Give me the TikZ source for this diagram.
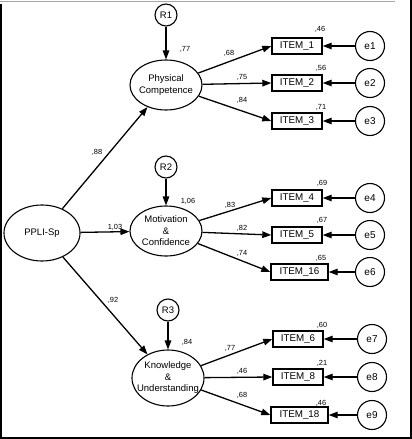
\documentclass[tikz,border=0pt]{standalone}
\usepackage{fontspec}
\setmainfont{Liberation Sans}
\usetikzlibrary{shapes.geometric,arrows.meta}
\tikzset{
  latent/.style={ellipse,draw,line width=1.1pt,inner sep=0pt,minimum width=72pt,minimum height=50pt},
  ltext/.style={align=center,font=\fontsize{9.5}{11.5}\selectfont},
  item/.style={rectangle,draw,line width=1.4pt,inner sep=0pt,minimum width=50pt,minimum height=16pt,font=\fontsize{9.8}{11}\selectfont},
  wide/.style={minimum width=57pt},
  err/.style={circle,draw,line width=1.1pt,inner sep=0pt,minimum size=29pt,font=\fontsize{10}{11}\selectfont},
  res/.style={circle,draw,line width=1.1pt,inner sep=0pt,minimum size=22pt,font=\fontsize{9.5}{11}\selectfont},
  num/.style={inner sep=0pt,font=\fontsize{7.4}{8}\selectfont},
  path/.style={line width=1.3pt,-{Triangle[length=9pt,width=6.5pt]}},
}
\begin{document}
\begin{tikzpicture}[x=1pt,y=-1pt]
\useasboundingbox (0,0) rectangle (412,439);
% frame
\draw[gray!70,line width=0.8pt] (0,1.5) -- (395,1.5);
\draw[line width=2pt] (1,4) -- (1,438) -- (411,438) -- (411,0);

% latent variables
\node[latent,minimum width=76pt,minimum height=56pt,label={[ltext]center:PPLI-Sp}] (ppli) at (42,233) {};
\node[latent,label={[ltext]center:Physical\\Competence}] (phys) at (166,85) {};
\node[latent,label={[ltext]center:Motivation\\\&\\Confidence}] (moti) at (166,231) {};
\node[latent,minimum height=56pt,label={[ltext]center:Knowledge\\\&\\Understanding}] (know) at (168,378) {};

% residuals
\node[res] (r1) at (166,15) {R1};
\node[res] (r2) at (166,167) {R2};
\node[res] (r3) at (168,310) {R3};

% items
\node[item] (i1) at (297,46) {ITEM\_1};
\node[item] (i2) at (297,83) {ITEM\_2};
\node[item] (i3) at (297,121) {ITEM\_3};
\node[item] (i4) at (297,198) {ITEM\_4};
\node[item] (i5) at (297,235) {ITEM\_5};
\node[item,wide] (i16) at (299.5,272) {ITEM\_16};
\node[item] (i6) at (298,339) {ITEM\_6};
\node[item] (i8) at (298,377) {ITEM\_8};
\node[item,wide] (i18) at (299.5,415) {ITEM\_18};

% errors
\node[err] (e1) at (370,46) {e1};
\node[err] (e2) at (370,83) {e2};
\node[err] (e3) at (370,121) {e3};
\node[err] (e4) at (370,198) {e4};
\node[err] (e5) at (370,235) {e5};
\node[err] (e6) at (370,272) {e6};
\node[err] (e7) at (372,339) {e7};
\node[err] (e8) at (372,377) {e8};
\node[err] (e9) at (372,415) {e9};

% structural paths
\draw[path] (ppli) -- (phys);
\draw[path] (ppli) -- (moti);
\draw[path] (ppli) -- (know);
\draw[path] (r1) -- (phys);
\draw[path] (r2) -- (moti);
\draw[path] (r3) -- (know);

% loadings
\draw[path] (phys) -- (i1.west);
\draw[path] (phys) -- (i2.west);
\draw[path] (phys) -- (i3.west);
\draw[path] (moti) -- (i4.west);
\draw[path] (moti) -- (i5.west);
\draw[path] (moti) -- (i16.west);
\draw[path] (know) -- (i6.west);
\draw[path] (know) -- (i8.west);
\draw[path] (know) -- (i18.west);

% error paths
\foreach \e/\i in {e1/i1,e2/i2,e3/i3,e4/i4,e5/i5,e6/i16,e7/i6,e8/i8,e9/i18}
  \draw[path] (\e) -- (\i);

% numbers
\node[num] (n88) at (97,152) {,88};
\node[num] (n103) at (115,227) {1,03};
\node[num] (n92) at (113,300) {,92};
\node[num] (n77) at (185,49) {,77};
\node[num] (n106) at (188,201) {1,06};
\node[num] (n84) at (187,342) {,84};
\node[num] (l1) at (229,53) {,68};
\node[num] (l2) at (242,77) {,75};
\node[num] (l3) at (242,100) {,84};
\node[num] (l4) at (230,205) {,83};
\node[num] (l5) at (242,228) {,82};
\node[num] (l6) at (242,253) {,74};
\node[num] (l7) at (230,348) {,77};
\node[num] (l8) at (242,371) {,46};
\node[num] (l9) at (242,395) {,68};
\node[num] (s1) at (320,29) {,46};
\node[num] (s2) at (321,68) {,56};
\node[num] (s3) at (321,107) {,71};
\node[num] (s4) at (322,183) {,69};
\node[num] (s5) at (322,220) {,67};
\node[num] (s6) at (321,258) {,65};
\node[num] (s7) at (322,325) {,60};
\node[num] (s8) at (322,363) {,21};
\node[num] (s9) at (321,403) {,46};
\end{tikzpicture}
\end{document}
